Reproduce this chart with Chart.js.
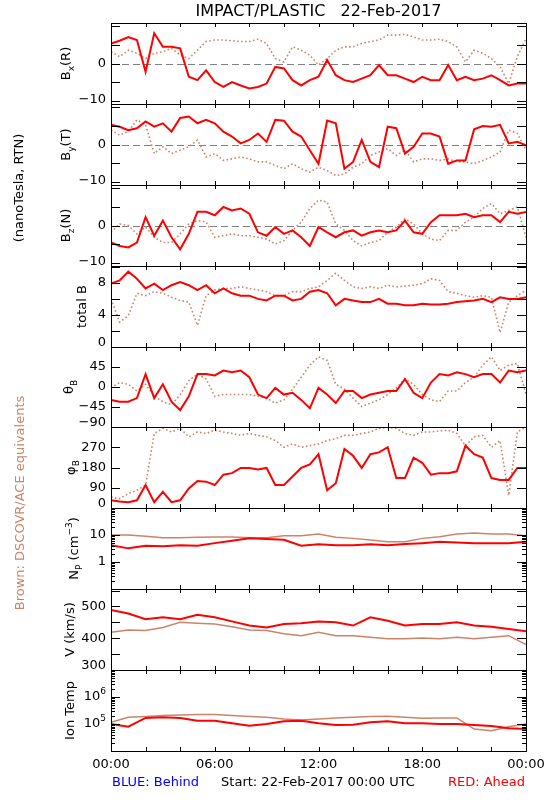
<!DOCTYPE html>
<html>
<head>
<meta charset="utf-8">
<script src="https://cdn.jsdelivr.net/npm/chart.js@4.4.1/dist/chart.umd.min.js"></script>
<style>
  body { margin: 0; background: #fff; }
  #wrap { position: relative; width: 550px; height: 800px; }
  #wrap canvas { position: absolute; left: 0; top: 0; }
</style>
</head>
<body>
<div id="wrap"></div>
<script>
// time axis (hours since 22-Feb-2017 00:00 UTC)
const hours = [0,0.5,1,1.5,2,2.5,3,3.5,4,4.5,5,5.5,6,6.5,7,7.5,8,8.5,9,9.5,10,10.5,11,11.5,
  12,12.5,13,13.5,14,14.5,15,15.5,16,16.5,17,17.5,18,18.5,19,19.5,20,20.5,21,21.5,22,22.5,23,23.5,24];
const plasmaHours = [0,1,2,3,4,5,6,7,8,9,10,11,12,13,14,15,16,17,18,19,20,21,22,23,24];
const xTickHours = [0,2,4,6,8,10,12,14,16,18,20,22,24];
const xLabelHours = [0,6,12,18,24];
const xLabels = ['00:00','06:00','12:00','18:00','00:00'];

// STEREO Ahead (red) and DSCOVR/ACE equivalents (brown)
const bxAhead = [5.3,6,7,6.2,-2.2,8,4.4,4.4,4,-3.5,-4.4,-1.8,-4.9,-6.2,-4.9,-5.8,-6.6,-6.2,-5.3,-0.9,-1.3,-4.4,-5.8,-4.4,
  -3.5,0.9,-3.1,-4.4,-4.9,-4,-3.1,-0.4,-3.1,-3.1,-4,-4.9,-3.5,-4.4,-4.4,-0.4,-4.4,-3.5,-4.4,-4,-3.1,-4.4,-5.8,-5.3,-5.3];
const bxAce = [3.1,1.8,3.5,2.7,1.3,2.7,3.1,4,2.2,1.3,3.5,5.8,6.2,6.2,6,5.8,5.8,6.4,5.3,1.3,0.4,4.4,3.5,2.2,
  -0.4,1.3,3.5,4.4,4.4,5.3,5.8,6.2,7.5,7.5,7.7,7,6.2,6.2,6.4,5.8,4.4,0.4,3.5,2.7,1.3,-0.9,-5.3,1.8,6.6];
const byAhead = [5.2,4.7,3.8,4.3,6.1,4.7,5.6,3.4,7,7.4,5.6,6.5,5.6,3.4,2.1,0.3,1.2,2.9,0.7,6.5,6.3,3.4,2.1,-1.5,
  -5.1,6.3,5.6,-6.4,-4.6,1.2,-4.6,-6,4.7,4.3,-2.4,-0.6,2.9,2.9,2.1,-5.1,-4.2,-4.2,4,4.9,4.7,5.2,0.3,0.7,-0.2];
const byAce = [3.8,2.5,3.4,6.5,5.2,-2.4,-0.6,-2.4,-1.5,-0.6,1.2,-3.3,-2.4,-4.2,-3.8,-3.3,-3.8,-4.6,-4.6,-5.5,-6.4,-5.1,-6.4,-7.3,
  -6,-6.9,-8.2,-7.8,-6,-5.1,-2.9,-2,-1.1,-2.9,-1.5,-4.6,-3.8,-3.8,-4.2,-3.8,-4.6,-4.6,-5.1,-4.2,-3.3,-2,3.8,2.9,-1.5];
const bzAhead = [-4.5,-5.4,-5.8,-4.5,2.2,-2.7,1.3,-3.1,-6.3,-2.2,3.6,3.6,2.7,4.9,4,4.5,3.1,-1.8,-2.7,-0.4,-2.2,-1.3,-3.1,-5.4,
  -0.4,-1.8,-3.1,-1.8,-1.3,-2.7,-1.8,-1.3,-1.8,-1.3,1.3,-1.8,-2.2,0.9,2.7,2.7,2.7,3.1,2.2,2.7,2.7,0.9,3.6,3.1,3.6];
const bzAce = [-1.8,0.4,0,-2.2,-0.4,-3.1,-4.5,-4.5,-2.2,0.4,1.3,0.9,-3.1,-2.7,-2.2,-2.7,-2.7,-3.1,-3.6,-4.9,-4,-1.3,0.9,4.5,
  6.7,6.2,0.4,-1.3,-4,-5.4,-4.5,-4,-1.8,-0.4,1.8,0.4,-2.2,-3.6,-4,-1.3,-1.3,0.9,2.2,4.5,5.8,3.1,4,4.9,-3.1];
const btAhead = [7.9,8.3,9.4,8.5,7.3,7.9,7.1,7.7,8.1,7.7,7.1,7.7,6.7,7.3,6.7,6.4,6.4,6,5.8,6.4,6.4,5.8,6,6.9,
  7.1,6.7,5.2,6,5.8,5.6,5.6,6,5.4,5.4,5.2,5.2,5.4,5.3,5.3,5.4,5.6,5.7,5.8,6,5.6,6.2,6,6,6.2];
const btAce = [6,3.1,3.9,6.7,6.4,6.9,6.7,6.2,5.8,5.6,2.7,6.4,7.1,7.3,7.3,7.5,7.3,7.1,6.9,6.4,6.4,6.9,6.9,7.3,
  7.5,8.3,9.2,8.3,7.5,7.3,7.5,7.3,7.7,7.5,7.6,7.7,7.9,8.5,8.3,6.9,6.7,6.4,6.2,6.4,6.2,1.8,5.6,6.4,7.1];
const thetaAhead = [-29,-33,-33,-25,29,-25,6,-33,-52,-21,29,29,26,37,33,37,22,-17,-25,-2,-17,-13,-29,-48,
  -2,-17,-36,-9,-9,-25,-17,-13,-9,-9,18,-13,-25,10,29,26,33,29,22,29,29,10,37,33,37];
const thetaAce = [-2,10,6,-9,6,-21,-33,-40,-17,14,29,18,-21,-17,-17,-17,-17,-21,-25,-36,-29,-5,22,49,
  68,60,6,-5,-25,-44,-36,-29,-17,-2,18,6,-17,-29,-33,-9,-9,10,22,49,68,37,49,53,-17];
const phiAhead = [34,29,26,34,102,26,72,26,34,87,120,117,102,148,155,178,178,171,178,102,102,140,178,194,
  239,79,110,262,232,178,239,247,270,133,133,224,201,148,155,155,163,277,239,224,133,125,125,178,178];
const phiAce = [49,41,64,79,102,331,354,338,354,316,338,331,346,338,331,323,331,323,316,300,270,285,270,277,
  285,300,308,323,323,331,338,354,358,354,331,323,338,338,343,346,331,277,316,323,270,300,56,338,360];
const npAhead = [4.2,3.2,4.0,3.8,4.2,4.0,5.0,6.1,7.5,7.1,6.7,4.0,4.5,4.2,4.2,4.5,4.2,4.6,5.0,5.6,5.3,5.0,5.0,5.0,5.6];
const npAce = [10,10,8.9,7.9,7.9,8.2,8.4,8.4,7.9,7.9,9.4,9.4,10.9,8.2,7.5,6.5,5.6,5.6,7.5,8.7,10.9,11.9,10.9,10.9,9.4];
const vAhead = [489,478,460,466,460,474,466,453,440,434,445,447,453,450,440,466,455,440,445,445,450,440,436,429,422];
const vAce = [419,426,424,434,450,447,445,436,426,424,414,408,419,408,408,403,398,398,401,398,403,398,403,408,380];
const tempAhead = [1.0e5,7.9e4,1.68e5,1.78e5,1.68e5,1.33e5,1.33e5,1.06e5,8.7e4,1.0e5,1.26e5,1.33e5,1.06e5,
  9.2e4,9.4e4,1.15e5,1.26e5,1.06e5,1.06e5,1.0e5,1.0e5,9.2e4,8.4e4,6.9e4,6.5e4];
const tempAce = [1.15e5,1.78e5,1.88e5,2.05e5,2.17e5,2.24e5,2.24e5,2.05e5,1.88e5,1.78e5,1.54e5,1.41e5,1.54e5,
  1.68e5,1.78e5,1.88e5,1.94e5,1.78e5,1.63e5,1.68e5,1.68e5,6.5e4,5.6e4,7.9e4,1.0e5];

const RED = '#ff0000';
const BROWN = 'rgb(204,132,104)';
const FONT = '"DejaVu Sans", sans-serif';

const panelTops = [23, 104, 185, 266, 347, 427, 508, 589, 670];
const panelBottom = 751;

function logMinors(lo, hi) {
  const out = [];
  for (let d = lo; d < hi; d *= 10) {
    for (let k = 2; k <= 9; k++) out.push(d * k);
  }
  return out;
}
const plain = v => [[String(v).replace('-', '\u2212')]];
const power = v => [['10'], [String(Math.round(Math.log10(v))), 'sup']];

const panels = [
  { title: [['B'], ['x', 'sub'], ['(R)']], titleX: 67, t: hours, ahead: bxAhead, ace: bxAce,
    type: 'linear', min: -10.7, max: 10.7, ticks: [-10, -5, 0, 5, 10], labels: [0, -10], zero: true },
  { title: [['B'], ['y', 'sub'], ['(T)']], titleX: 67, t: hours, ahead: byAhead, ace: byAce,
    type: 'linear', min: -10.7, max: 10.7, ticks: [-10, -5, 0, 5, 10], labels: [0, -10], zero: true },
  { title: [['B'], ['z', 'sub'], ['(N)']], titleX: 67, t: hours, ahead: bzAhead, ace: bzAce,
    type: 'linear', min: -10.7, max: 10.7, ticks: [-10, -5, 0, 5, 10], labels: [0, -10], zero: true },
  { title: [['total B']], titleX: 83, t: hours, ahead: btAhead, ace: btAce,
    type: 'linear', min: 0, max: 10.1, ticks: [0, 2, 4, 6, 8, 10], labels: [8, 4, 0] },
  { title: [['\u03b8'], ['B', 'sub']], titleX: 70, t: hours, ahead: thetaAhead, ace: thetaAce,
    type: 'linear', min: -90, max: 90, ticks: [-90, -45, 0, 45, 90], labels: [45, 0, -45, -90] },
  { title: [['\u03c6'], ['B', 'sub']], titleX: 72, t: hours, ahead: phiAhead, ace: phiAce,
    type: 'linear', min: 0, max: 360, ticks: [0, 90, 180, 270, 360], labels: [270, 180, 90, 0] },
  { title: [['N'], ['P', 'sub'], [' (cm'], ['\u22123', 'sup'], [')']], titleX: 75, t: plasmaHours, ahead: npAhead, ace: npAce,
    type: 'logarithmic', min: 0.1, max: 100, ticks: [0.1, 1, 10, 100], minor: logMinors(0.1, 100), labels: [10, 1], solid: true },
  { title: [['V (km/s)']], titleX: 71, t: plasmaHours, ahead: vAhead, ace: vAce,
    type: 'linear', min: 300, max: 555, ticks: [300, 350, 400, 450, 500, 550], labels: [500, 400, 300], solid: true },
  { title: [['Ion Temp']], titleX: 71, t: plasmaHours, ahead: tempAhead, ace: tempAce,
    type: 'logarithmic', min: 1e4, max: 1e7, ticks: [1e4, 1e5, 1e6, 1e7], minor: logMinors(1e4, 1e7), labels: [1e6, 1e5], fmt: power, solid: true }
];

function drawRich(ctx, parts, x, y, align, size) {
  const small = Math.round(size * 0.7);
  const widths = parts.map(p => {
    ctx.font = (p[1] ? small : size) + 'px ' + FONT;
    return ctx.measureText(p[0]).width;
  });
  const total = widths.reduce((a, b) => a + b, 0);
  let cx = align === 'right' ? x - total : align === 'center' ? x - total / 2 : x;
  ctx.textAlign = 'left';
  ctx.textBaseline = 'middle';
  parts.forEach((p, i) => {
    ctx.font = (p[1] ? small : size) + 'px ' + FONT;
    const dy = p[1] === 'sub' ? size * 0.35 : p[1] === 'sup' ? -size * 0.4 : 0;
    ctx.fillText(p[0], cx, y + dy);
    cx += widths[i];
  });
}

function seg(ctx, x1, y1, x2, y2) {
  ctx.beginPath(); ctx.moveTo(x1, y1); ctx.lineTo(x2, y2); ctx.stroke();
}

function makeFrame(p, idx) {
  return {
    id: 'frame' + idx,
    beforeDatasetsDraw(chart) {
      if (!p.zero) return;
      const { ctx, chartArea: a } = chart;
      const y = Math.round(chart.scales.y.getPixelForValue(0)) + 0.5;
      ctx.save();
      ctx.strokeStyle = '#808080';
      ctx.lineWidth = 1;
      ctx.setLineDash([7, 4]);
      seg(ctx, a.left, y, a.right, y);
      ctx.restore();
    },
    afterDraw(chart) {
      const { ctx, chartArea: a } = chart;
      const xs = chart.scales.x, ys = chart.scales.y;
      ctx.save();
      ctx.strokeStyle = '#000';
      ctx.lineWidth = 1;
      ctx.strokeRect(a.left + 0.5, a.top + 0.5, a.right - a.left, a.bottom - a.top);
      xTickHours.forEach(h => {
        const px = Math.round(xs.getPixelForValue(h)) + 0.5;
        seg(ctx, px, a.top, px, a.top + 4);
        seg(ctx, px, a.bottom, px, a.bottom - 4);
      });
      p.ticks.forEach(v => {
        const py = Math.round(ys.getPixelForValue(v)) + 0.5;
        seg(ctx, a.left, py, a.left + 9, py);
        seg(ctx, a.right, py, a.right - 9, py);
      });
      (p.minor || []).forEach(v => {
        const py = Math.round(ys.getPixelForValue(v)) + 0.5;
        seg(ctx, a.left, py, a.left + 4, py);
        seg(ctx, a.right, py, a.right - 4, py);
      });
      ctx.fillStyle = '#000';
      const fmt = p.fmt || plain;
      p.labels.forEach(v => {
        let py = ys.getPixelForValue(v);
        py = Math.min(Math.max(py, a.top + 6), a.bottom - 4);
        drawRich(ctx, fmt(v), a.left - 5, py, 'right', 13);
      });
      ctx.save();
      ctx.translate(p.titleX, (a.top + a.bottom) / 2);
      ctx.rotate(-Math.PI / 2);
      drawRich(ctx, p.title, 0, 0, 'center', 13);
      ctx.restore();

      if (idx === 0) {
        ctx.textAlign = 'center';
        ctx.textBaseline = 'middle';
        ctx.font = '16px ' + FONT;
        ctx.fillText('IMPACT/PLASTIC   22-Feb-2017', (a.left + a.right) / 2, 12);
        ctx.font = '13px ' + FONT;
        ctx.save();
        ctx.translate(20, 188);
        ctx.rotate(-Math.PI / 2);
        ctx.fillText('(nanoTesla, RTN)', 0, 0);
        ctx.restore();
        ctx.save();
        ctx.fillStyle = BROWN;
        ctx.translate(21, 503);
        ctx.rotate(-Math.PI / 2);
        ctx.fillText('Brown: DSCOVR/ACE equivalents', 0, 0);
        ctx.restore();
      }
      if (idx === panels.length - 1) {
        ctx.font = '13px ' + FONT;
        ctx.textBaseline = 'middle';
        ctx.textAlign = 'center';
        xLabelHours.forEach((h, i) => {
          ctx.fillText(xLabels[i], xs.getPixelForValue(h), 765);
        });
        ctx.textAlign = 'left';
        ctx.fillStyle = '#0000ff';
        ctx.fillText('BLUE: Behind', 112, 783);
        ctx.textAlign = 'center';
        ctx.fillStyle = '#000';
        ctx.fillText('Start: 22-Feb-2017 00:00 UTC', 318, 783);
        ctx.textAlign = 'right';
        ctx.fillStyle = RED;
        ctx.fillText('RED: Ahead', 525, 783);
      }
      ctx.restore();
    }
  };
}

const wrap = document.getElementById('wrap');
panels.forEach((p, i) => {
  const canvas = document.createElement('canvas');
  canvas.width = 550;
  canvas.height = 800;
  wrap.appendChild(canvas);
  const bottom = i < panels.length - 1 ? panelTops[i + 1] : panelBottom;
  new Chart(canvas, {
    type: 'line',
    data: {
      datasets: [
        {
          label: 'Ahead',
          data: p.t.map((h, k) => ({ x: h, y: p.ahead[k] })),
          borderColor: RED,
          borderWidth: 2,
          pointRadius: 0,
          tension: 0
        },
        {
          label: 'DSCOVR/ACE',
          data: p.t.map((h, k) => ({ x: h, y: p.ace[k] })),
          borderColor: BROWN,
          borderWidth: p.solid ? 1.5 : 1.6,
          borderDash: p.solid ? [] : [1.6, 2.4],
          pointRadius: 0,
          tension: 0
        }
      ]
    },
    options: {
      responsive: false,
      animation: false,
      events: [],
      layout: { padding: { left: 111, right: 24, top: panelTops[i], bottom: 800 - bottom } },
      scales: {
        x: { type: 'linear', min: 0, max: 24, display: false },
        y: { type: p.type, min: p.min, max: p.max, display: false }
      },
      plugins: { legend: { display: false }, tooltip: { enabled: false } }
    },
    plugins: [makeFrame(p, i)]
  });
});
</script>
</body>
</html>
